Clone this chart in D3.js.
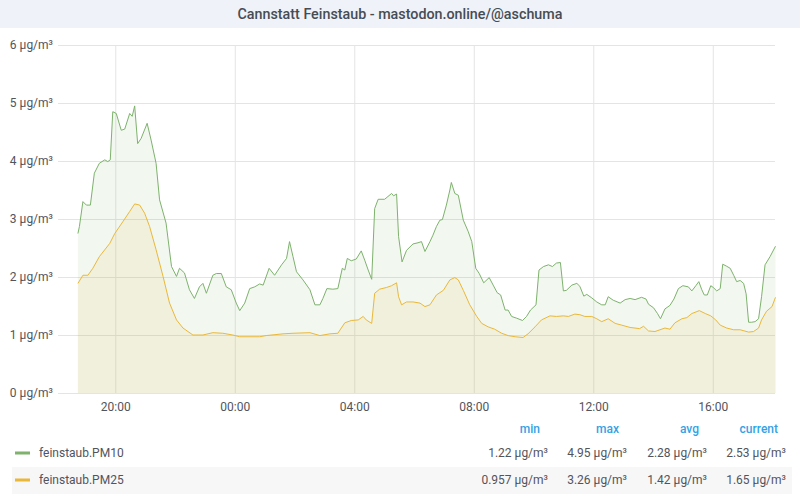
<!DOCTYPE html>
<html>
<head>
<meta charset="utf-8">
<script src="https://cdn.jsdelivr.net/npm/d3@7"></script>
<style>
	body { margin: 0; background: #fff; font-family: Roboto, "Open Sans", sans-serif; }
	.axis text { font-size: 12px; fill: #52545c; font-family: Roboto, sans-serif; }
	.axis .tick line { stroke: #e4e4e4; }
	.axis .domain { display: none; }
</style>
</head>
<body>
<div id="chart"></div>
<script>
// time range shown on the x axis (second value is the next day)
const timeRange = ['18:05', '18:05']

const pm10Times = [
	'18:45', '18:48', '18:55', '19:02', '19:10', '19:18', '19:28', '19:39', '19:45', '19:50',
	'19:55', '20:02', '20:12', '20:19', '20:29', '20:34', '20:39', '20:45', '20:52', '21:04',
	'21:12', '21:22', '21:29', '21:42', '21:53', '22:03', '22:09', '22:19', '22:29', '22:39',
	'22:49', '22:56', '23:03', '23:16', '23:23', '23:33', '23:43', '23:53', '00:03', '00:10',
	'00:20', '00:30', '00:40', '00:50', '00:57', '01:09', '01:20', '01:34', '01:44', '01:50',
	'01:57', '02:04', '02:17', '02:31', '02:41', '02:51', '02:57', '03:05', '03:17', '03:27',
	'03:36', '03:41', '03:46', '03:54', '04:04', '04:14', '04:21', '04:28', '04:35', '04:41',
	'04:48', '05:01', '05:15', '05:19', '05:25', '05:29', '05:36', '05:45', '05:58', '06:08',
	'06:15', '06:22', '06:32', '06:38', '06:45', '06:52', '06:57', '07:05', '07:12', '07:15',
	'07:22', '07:29', '07:39', '07:49', '07:56', '08:04', '08:11', '08:20', '08:31', '08:39',
	'08:47', '08:54', '09:03', '09:09', '09:16', '09:26', '09:38', '09:46', '09:54', '10:05',
	'10:11', '10:20', '10:30', '10:38', '10:46', '10:54', '11:00', '11:06', '11:17', '11:27',
	'11:33', '11:41', '11:47', '11:57', '12:07', '12:17', '12:24', '12:30', '12:40', '12:54',
	'13:04', '13:14', '13:24', '13:37', '13:46', '13:51', '14:01', '14:09', '14:15', '14:24',
	'14:34', '14:42', '14:51', '15:00', '15:11', '15:18', '15:26', '15:32', '15:38', '15:43',
	'15:49', '15:56', '16:01', '16:08', '16:15', '16:20', '16:27', '16:35', '16:42', '16:48',
	'16:55', '17:02', '17:07', '17:12', '17:18', '17:25', '17:32', '17:38', '17:45', '17:55',
	'18:06'
]
const pm10Values = [
	2.75, 2.87, 3.30, 3.24, 3.24, 3.79, 3.96, 4.02, 3.99, 4.02,
	4.85, 4.82, 4.53, 4.55, 4.82, 4.77, 4.95, 4.30, 4.39, 4.65,
	4.36, 3.96, 3.33, 2.93, 2.18, 2.01, 2.15, 2.07, 1.78, 1.63,
	1.83, 1.89, 1.72, 2.03, 2.06, 2.06, 1.83, 1.78, 1.55, 1.42,
	1.55, 1.80, 1.83, 1.88, 1.86, 2.15, 2.03, 2.21, 2.32, 2.61,
	2.35, 2.09, 1.95, 1.78, 1.52, 1.52, 1.63, 1.80, 1.79, 1.80,
	2.15, 2.12, 2.32, 2.28, 2.31, 2.45, 2.29, 2.12, 1.96, 3.18,
	3.34, 3.34, 3.44, 3.40, 3.43, 2.70, 2.26, 2.46, 2.57, 2.59,
	2.61, 2.44, 2.61, 2.72, 2.87, 2.98, 2.99, 3.24, 3.50, 3.63,
	3.44, 3.41, 2.98, 2.78, 2.61, 2.15, 2.06, 1.90, 1.99, 1.86,
	1.73, 1.69, 1.43, 1.43, 1.32, 1.29, 1.25, 1.32, 1.43, 1.52,
	2.12, 2.18, 2.21, 2.18, 2.24, 2.25, 1.76, 1.77, 1.86, 1.89,
	1.84, 1.67, 1.70, 1.64, 1.57, 1.52, 1.52, 1.66, 1.60, 1.55,
	1.61, 1.63, 1.61, 1.65, 1.62, 1.53, 1.47, 1.37, 1.28, 1.45,
	1.51, 1.62, 1.80, 1.85, 1.83, 1.76, 1.85, 1.92, 1.78, 1.69,
	1.69, 1.85, 1.82, 1.76, 1.80, 2.22, 2.19, 2.15, 2.03, 1.92,
	1.94, 1.89, 1.71, 1.22, 1.22, 1.23, 1.28, 1.66, 2.21, 2.35,
	2.53
]

const pm25Times = [
	'18:45', '18:55', '19:05', '19:15', '19:28', '19:49', '19:59', '20:15', '20:29', '20:39',
	'20:49', '20:59', '21:09', '21:22', '21:36', '21:49', '22:03', '22:16', '22:36', '22:56',
	'23:16', '23:36', '23:56', '00:10', '00:50', '01:03', '01:37', '01:57', '02:31', '02:51',
	'03:11', '03:27', '03:41', '03:54', '04:08', '04:18', '04:24', '04:35', '04:41', '04:51',
	'05:05', '05:15', '05:25', '05:29', '05:35', '05:45', '05:58', '06:12', '06:22', '06:32',
	'06:45', '06:59', '07:12', '07:22', '07:29', '07:39', '07:52', '08:06', '08:16', '08:29',
	'08:42', '08:56', '09:09', '09:23', '09:39', '09:49', '10:03', '10:16', '10:33', '10:46',
	'11:00', '11:10', '11:23', '11:33', '11:43', '11:57', '12:07', '12:17', '12:30', '12:44',
	'12:57', '13:14', '13:33', '13:41', '13:51', '14:04', '14:14', '14:24', '14:34', '14:44',
	'14:58', '15:08', '15:18', '15:33', '15:45', '15:56', '16:06', '16:15', '16:28', '16:42',
	'16:55', '17:12', '17:22', '17:32', '17:38', '17:48', '17:59', '18:06'
]
const pm25Values = [
	1.89, 2.03, 2.03, 2.15, 2.35, 2.58, 2.75, 2.95, 3.13, 3.26,
	3.24, 3.10, 2.87, 2.47, 2.01, 1.55, 1.26, 1.12, 1.00, 1.00,
	1.04, 1.03, 1.00, 0.97, 0.97, 0.99, 1.02, 1.03, 1.04, 0.99,
	1.02, 1.03, 1.21, 1.25, 1.26, 1.32, 1.26, 1.20, 1.72, 1.79,
	1.82, 1.85, 1.90, 1.66, 1.52, 1.57, 1.57, 1.55, 1.49, 1.52,
	1.69, 1.77, 1.95, 1.99, 1.95, 1.77, 1.52, 1.32, 1.20, 1.14,
	1.10, 1.03, 0.99, 0.97, 0.957, 1.02, 1.14, 1.26, 1.33, 1.32,
	1.33, 1.32, 1.36, 1.35, 1.32, 1.32, 1.28, 1.23, 1.28, 1.20,
	1.17, 1.13, 1.11, 1.15, 1.07, 1.06, 1.09, 1.12, 1.10, 1.21,
	1.28, 1.30, 1.37, 1.42, 1.37, 1.33, 1.26, 1.17, 1.12, 1.09,
	1.09, 1.05, 1.06, 1.12, 1.26, 1.41, 1.49, 1.65
]

const yTicks = [0, 1, 2, 3, 4, 5, 6]
const xTicks = ['20:00', '00:00', '04:00', '08:00', '12:00', '16:00']

const legendColumns = ['min', 'max', 'avg', 'current']
const seriesNames = ['feinstaub.PM10', 'feinstaub.PM25']
const pm10Stats = ['1.22', '4.95', '2.28', '2.53']
const pm25Stats = ['0.957', '3.26', '1.42', '1.65']

const title = 'Cannstatt Feinstaub - mastodon.online/@aschuma'
const unit = 'µg/m³'

// "HH:MM" strings, rolling over to the next day when the clock goes back
function parseTimes(times) {
	let day = 0, prev = -1
	return times.map(t => {
		const [hh, mm] = t.split(':').map(Number)
		const mins = hh * 60 + mm
		if (mins <= prev) day++
		prev = mins
		return new Date(2020, 0, 1 + day, hh, mm)
	})
}

const W = 800, H = 500
const plot = { left: 58, right: 775, top: 45, bottom: 393 }

const $svg = d3.select('#chart').append('svg')
	.attr('width', W)
	.attr('height', H)

// title bar
$svg.append('rect')
	.attr('width', W)
	.attr('height', 28)
	.attr('fill', '#eff2f8')

$svg.append('text')
	.attr('x', W / 2)
	.attr('y', 14)
	.attr('dy', '0.35em')
	.attr('text-anchor', 'middle')
	.style('font-size', '14.3px')
	.style('font-weight', 500)
	.attr('fill', '#464c54')
	.text(title)

const x = d3.scaleTime()
	.domain(parseTimes(timeRange))
	.range([plot.left, plot.right])

const y = d3.scaleLinear()
	.domain([0, 6])
	.range([plot.bottom, plot.top])

// grid + axes
$svg.append('g')
	.attr('class', 'axis axis--y')
	.attr('transform', `translate(${plot.left}, 0)`)
	.call(d3.axisLeft(y)
		.tickValues(yTicks)
		.tickSize(-(plot.right - plot.left))
		.tickPadding(5)
		.tickFormat(d => `${d} ${unit}`))

// x ticks: first one on day 1, rest on day 2
const xTickDates = parseTimes(['18:05'].concat(xTicks)).slice(1)

$svg.append('g')
	.attr('class', 'axis axis--x')
	.attr('transform', `translate(0, ${plot.bottom})`)
	.call(d3.axisBottom(x)
		.tickValues(xTickDates)
		.tickSize(-(plot.bottom - plot.top))
		.tickPadding(9)
		.tickFormat(d3.timeFormat('%H:%M')))

// series
const series = [
	{ name: seriesNames[0], times: parseTimes(pm10Times), values: pm10Values, color: '#7eb26d', stats: pm10Stats },
	{ name: seriesNames[1], times: parseTimes(pm25Times), values: pm25Values, color: '#eab839', stats: pm25Stats }
]

const area = d3.area()
	.x(d => x(d[0]))
	.y0(y(0))
	.y1(d => y(d[1]))

const line = d3.line()
	.x(d => x(d[0]))
	.y(d => y(d[1]))

series.forEach(s => {
	s.pts = s.times.map((t, i) => [t, s.values[i]])
	$svg.append('path')
		.attr('d', area(s.pts))
		.attr('fill', s.color)
		.attr('fill-opacity', 0.1)
})

series.forEach(s => {
	$svg.append('path')
		.attr('d', line(s.pts))
		.attr('fill', 'none')
		.attr('stroke', s.color)
		.attr('stroke-width', 1)
})

// legend table
const colX = [548, 627, 707, 786]
const rowY = [453, 480]

const $legend = $svg.append('g')
	.style('font-size', '12px')

$legend.append('rect')
	.attr('x', 12)
	.attr('y', rowY[1] - 13)
	.attr('width', 780)
	.attr('height', 27)
	.attr('fill', '#f7f7f8')

$legend.selectAll('.head')
	.data(legendColumns)
	.join('text')
	.attr('class', 'head')
	.attr('x', (d, i) => colX[i] - 8)
	.attr('y', 429)
	.attr('dy', '0.35em')
	.attr('text-anchor', 'end')
	.style('font-weight', 500)
	.attr('fill', '#33a2e5')
	.text(d => d)

const $rows = $legend.selectAll('.row')
	.data(series)
	.join('g')
	.attr('class', 'row')
	.attr('transform', (d, i) => `translate(0, ${rowY[i]})`)

$rows.append('rect')
	.attr('x', 15)
	.attr('y', -1.5)
	.attr('width', 15)
	.attr('height', 3)
	.attr('fill', d => d.color)

$rows.append('text')
	.attr('x', 39)
	.attr('dy', '0.35em')
	.attr('fill', '#52545c')
	.text(d => d.name)

$rows.selectAll('.val')
	.data(d => d.stats)
	.join('text')
	.attr('class', 'val')
	.attr('x', (d, i) => colX[i])
	.attr('dy', '0.35em')
	.attr('text-anchor', 'end')
	.attr('fill', '#52545c')
	.text(d => `${d} ${unit}`)
</script>
</body>
</html>
